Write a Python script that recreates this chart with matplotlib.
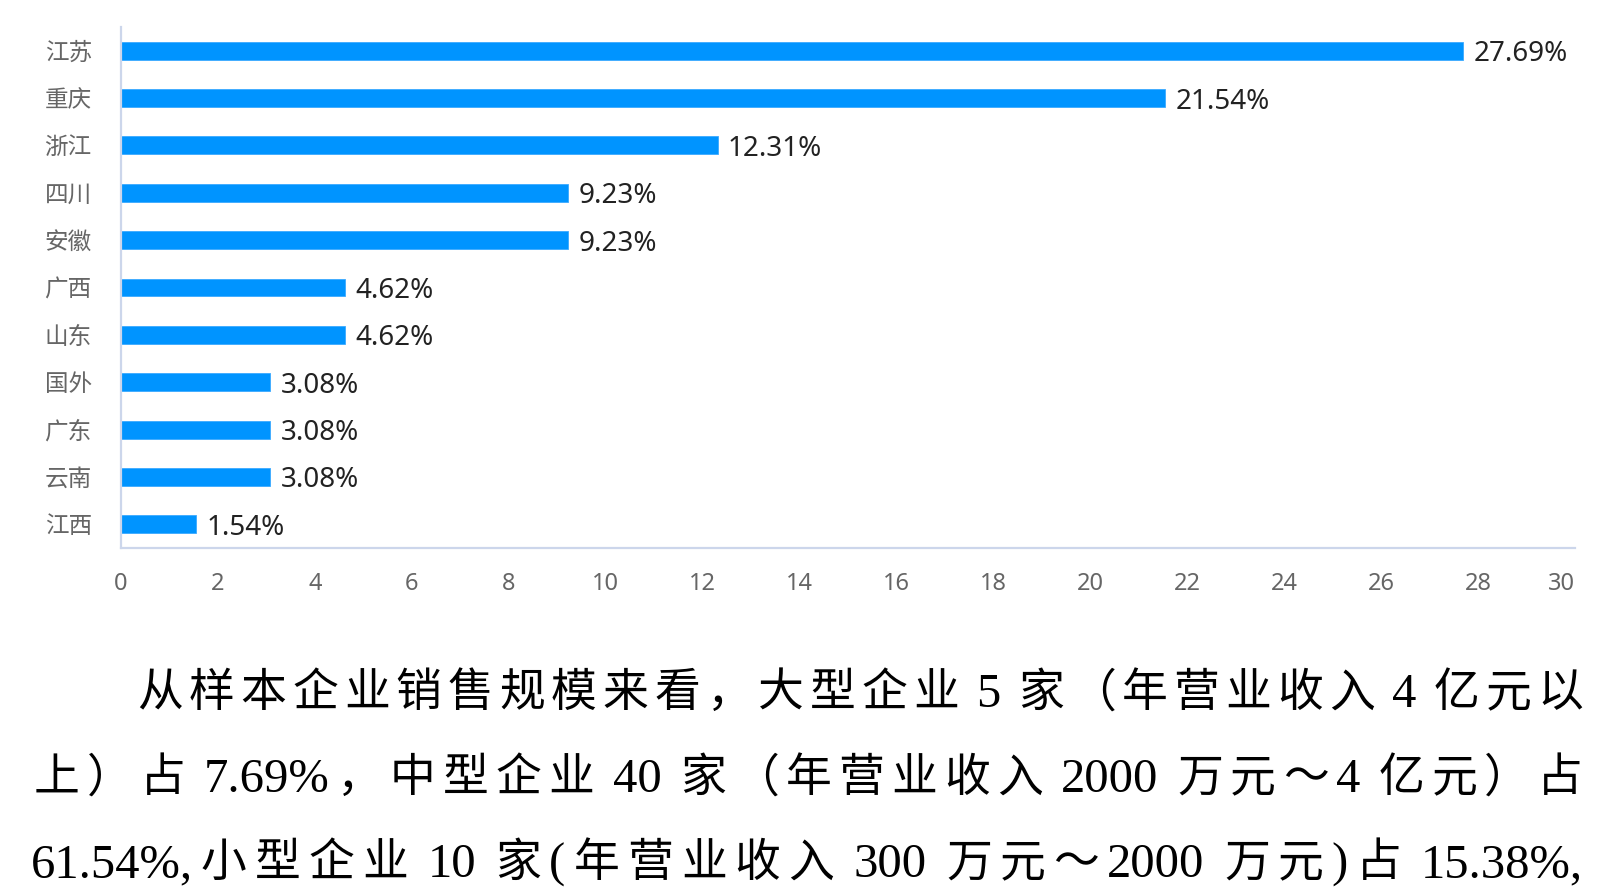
import re
import matplotlib
matplotlib.use('Agg')
import matplotlib.pyplot as plt

# data
categories = ['江苏', '重庆', '浙江', '四川', '安徽', '广西', '山东', '国外', '广东', '云南', '江西']
shares = [27.69, 21.54, 12.31, 9.23, 9.23, 4.62, 4.62, 3.08, 3.08, 3.08, 1.54]
x_ticks = list(range(0, 31, 2))

paragraph_lines = [
    '从样本企业销售规模来看，大型企业 5 家（年营业收入 4 亿元以',
    '上）占 7.69%，中型企业 40 家（年营业收入 2000 万元～4 亿元）占',
    '61.54%,小型企业 10 家(年营业收入 300 万元～2000 万元)占 15.38%,',
]

W, H = 1615, 889
BAR_COLOR = '#0094ff'
AXIS_COLOR = '#ccd6eb'

plt.rcParams['font.family'] = ['Noto Sans', 'Noto Sans CJK SC', 'DejaVu Sans']

fig = plt.figure(figsize=(W / 100, H / 100), dpi=100)
fig.patch.set_facecolor('white')

# axes box in pixel terms of the reference
left, right, top, bottom = 121, 1575, 27, 548
ax = fig.add_axes([left / W, 1 - bottom / H, (right - left) / W, (bottom - top) / H])

ypos = list(range(len(categories)))
ax.barh(ypos, shares, height=0.38, color=BAR_COLOR, edgecolor='#3aa9ff', linewidth=0.6)

for y, v in zip(ypos, shares):
    ax.annotate(f'{v:.2f}%', xy=(v, y), xytext=(7.5, 0), textcoords='offset points',
                va='center_baseline', ha='left', fontsize=20, color='#222222',
                fontweight='medium', family=['Noto Sans', 'DejaVu Sans'])

ax.set_xlim(0, 30)
ax.set_ylim(len(categories) - 0.5, -0.5)
ax.set_yticks(ypos)
ax.set_yticklabels(categories, family=['Noto Sans CJK SC', 'DejaVu Sans'],
                   fontsize=17, color='#666666')
ax.set_xticks(x_ticks)
ax.set_xticklabels([str(t) for t in x_ticks], fontsize=17, color='#666666')
# last label sits inside the plot edge, like the original
ax.get_xticklabels()[-1].set_horizontalalignment('right')
ax.tick_params(axis='both', length=0)
ax.tick_params(axis='y', pad=21)
ax.tick_params(axis='x', pad=17)

for side in ['top', 'right']:
    ax.spines[side].set_visible(False)
for side in ['left', 'bottom']:
    ax.spines[side].set_color(AXIS_COLOR)
    ax.spines[side].set_linewidth(1.6)


# justified paragraph below the chart
renderer = fig.canvas.get_renderer()
para_font = ['Liberation Serif', 'Noto Sans CJK SC', 'DejaVu Sans']
para_size = 33


def token_width(tok, size):
    t = fig.text(0, 0, tok, fontsize=size, family=para_font)
    w = t.get_window_extent(renderer).width
    t.remove()
    return w


def draw_justified(text, x0, x1, yc):
    tokens = re.findall(r'[A-Za-z0-9.%,()]+| |.', text)
    space_w = para_size * 0.25 * 100 / 72
    words = []
    gaps = []
    pending_space = 0
    for tok in tokens:
        if tok == ' ':
            pending_space += space_w
            continue
        if words:
            gaps.append(pending_space)
        pending_space = 0
        size = para_size + 2 if tok.isascii() else para_size
        words.append((tok, token_width(tok, size), size))
    natural = sum(w for _, w, _ in words) + sum(gaps)
    extra = (x1 - x0 - natural) / max(len(gaps), 1)
    x = x0
    for i, (tok, w, size) in enumerate(words):
        fig.text(x / W, 1 - yc / H, tok, fontsize=size, family=para_font,
                 va='center', ha='left', color='black')
        x += w
        if i < len(gaps):
            x += gaps[i] + extra


starts = [137, 34, 31]
centers = [695, 780, 865]
for line, x0, yc in zip(paragraph_lines, starts, centers):
    draw_justified(line, x0, 1583, yc)

fig.savefig('out.png', dpi=100, facecolor='white')
